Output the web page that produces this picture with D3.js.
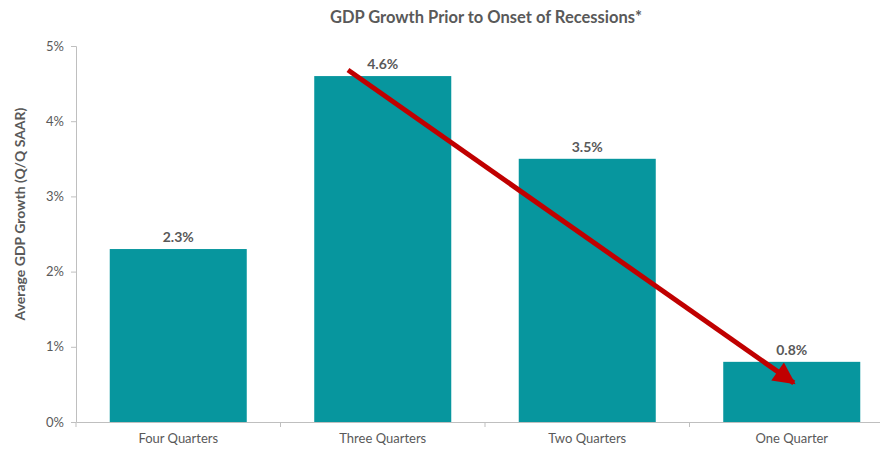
<!DOCTYPE html>
<html><head><meta charset="utf-8">
<script src="https://cdn.jsdelivr.net/npm/d3@7"></script>
<style>body{margin:0;background:#fff}svg{display:block}text{font-family:Lato,"Open Sans",sans-serif}</style>
</head><body><svg id="c" width="880" height="449"></svg>
<script>
const categories = ["Four Quarters","Three Quarters","Two Quarters","One Quarter"];
const values = [2.3, 4.6, 3.5, 0.8];
const yTicks = [0,1,2,3,4,5];
const arrowFrom = {cat:"Three Quarters", frac:0.33, value:4.68};
const arrowTo = {cat:"One Quarter", frac:0.51, value:0.52};

const svg = d3.select("#c");
const x = d3.scaleBand().domain(categories).range([76,894]).paddingInner(0.33).paddingOuter(0.165);
const xb = d3.scaleBand().domain(categories).range([76,894]);
const y = d3.scaleLinear().domain([0,5]).range([422,46]);
const grey="#595959", axisC="#bfbfbf";

const defs=svg.append("defs");
defs.append("marker").attr("id","ah").attr("viewBox","0 0 10 10").attr("refX",9).attr("refY",5)
 .attr("markerWidth",5).attr("markerHeight",4.4).attr("orient","auto").attr("markerUnits","strokeWidth")
 .append("path").attr("d","M0,0L10,5L0,10Z").attr("fill","#c00000");

svg.append("g").selectAll("rect").data(values).join("rect")
 .attr("x",(d,i)=>x(categories[i])).attr("width",x.bandwidth())
 .attr("y",d=>y(d)).attr("height",d=>y(0)-y(d)).attr("fill","#07969e");

svg.append("g").selectAll("text").data(values).join("text")
 .attr("x",(d,i)=>x(categories[i])+x.bandwidth()/2).attr("y",d=>y(d)-7)
 .attr("text-anchor","middle").attr("font-size",14).attr("font-weight","bold").attr("fill",grey)
 .text(d=>d.toFixed(1)+"%");

const ya=svg.append("g").attr("transform","translate(76,0)")
 .call(d3.axisLeft(y).tickValues(yTicks).tickFormat(d=>d+"%").tickSize(5).tickPadding(7));
const xa=svg.append("g").attr("transform","translate(0,422)")
 .call(d3.axisBottom(xb).tickSize(0).tickPadding(12));
xa.selectAll(".tick line").remove();
svg.append("g").selectAll("line").data(categories).join("line")
 .attr("x1",d=>xb(d)).attr("x2",d=>xb(d)).attr("y1",422).attr("y2",427).attr("stroke",axisC);
[ya,xa].forEach(a=>{a.selectAll("path,line").attr("stroke",axisC);
 a.selectAll("text").attr("fill",grey).attr("font-size",13).style("font-family","Lato,'Open Sans',sans-serif");});
ya.select(".domain").attr("d","M-5,46.5H0.5V422.5");

svg.append("line")
 .attr("x1",xb(arrowFrom.cat)+xb.bandwidth()*arrowFrom.frac).attr("y1",y(arrowFrom.value))
 .attr("x2",xb(arrowTo.cat)+xb.bandwidth()*arrowTo.frac).attr("y2",y(arrowTo.value))
 .attr("stroke","#c00000").attr("stroke-width",5).attr("marker-end","url(#ah)");

svg.append("text").attr("x",486).attr("y",23).attr("text-anchor","middle")
 .attr("font-size",16.5).attr("font-weight","bold").attr("fill",grey)
 .text("GDP Growth Prior to Onset of Recessions*");
svg.append("text").attr("transform","translate(25,214) rotate(-90)").attr("text-anchor","middle")
 .attr("font-size",14).attr("font-weight","bold").attr("fill",grey)
 .text("Average GDP Growth (Q/Q SAAR)");
</script></body></html>
